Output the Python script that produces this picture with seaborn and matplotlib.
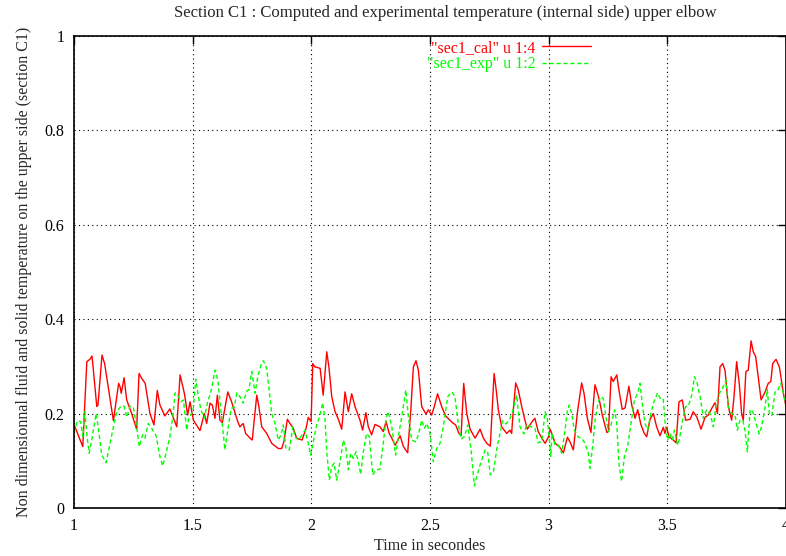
import matplotlib
matplotlib.use("Agg")
import matplotlib.pyplot as plt
import seaborn as sns
import pandas as pd

# Computed temperature, section C1 (column 4 of sec1_cal)
cal_time = [1.000, 1.004, 1.037, 1.054, 1.067, 1.076, 1.096, 1.101, 1.118, 1.129,
            1.166, 1.188, 1.194, 1.199, 1.211, 1.222, 1.243, 1.264, 1.274, 1.285,
            1.300, 1.320, 1.337, 1.351, 1.362, 1.383, 1.404, 1.433, 1.447, 1.465,
            1.479, 1.489, 1.503, 1.531, 1.549, 1.559, 1.573, 1.583, 1.594, 1.604,
            1.615, 1.625, 1.648, 1.664, 1.690, 1.699, 1.713, 1.723, 1.742, 1.751,
            1.770, 1.779, 1.791, 1.812, 1.833, 1.861, 1.875, 1.884, 1.899, 1.910,
            1.924, 1.938, 1.961, 1.978, 1.987, 1.999, 2.006, 2.015, 2.037, 2.050,
            2.065, 2.074, 2.086, 2.100, 2.114, 2.128, 2.142, 2.156, 2.170, 2.184,
            2.205, 2.216, 2.230, 2.240, 2.254, 2.268, 2.289, 2.303, 2.315, 2.328,
            2.336, 2.353, 2.374, 2.388, 2.406, 2.420, 2.430, 2.441, 2.451, 2.465,
            2.483, 2.493, 2.507, 2.518, 2.532, 2.549, 2.566, 2.594, 2.608, 2.622,
            2.631, 2.642, 2.655, 2.669, 2.690, 2.711, 2.725, 2.739, 2.754, 2.770,
            2.778, 2.788, 2.802, 2.823, 2.837, 2.844, 2.851, 2.861, 2.872, 2.886,
            2.900, 2.910, 2.921, 2.933, 2.942, 2.956, 2.971, 2.985, 2.999, 3.006,
            3.017, 3.027, 3.045, 3.062, 3.079, 3.090, 3.104, 3.121, 3.139, 3.149,
            3.163, 3.178, 3.195, 3.202, 3.213, 3.226, 3.245, 3.252, 3.263, 3.272,
            3.287, 3.296, 3.310, 3.322, 3.338, 3.350, 3.364, 3.375, 3.389, 3.403,
            3.413, 3.427, 3.441, 3.455, 3.469, 3.483, 3.490, 3.497, 3.507, 3.525,
            3.537, 3.549, 3.563, 3.577, 3.596, 3.609, 3.624, 3.642, 3.659, 3.673,
            3.687, 3.701, 3.711, 3.722, 3.733, 3.743, 3.757, 3.771, 3.781, 3.792,
            3.803, 3.813, 3.820, 3.831, 3.841, 3.853, 3.862, 3.872, 3.883, 3.895,
            3.912, 3.925, 3.936, 3.944, 3.958, 3.972, 3.989, 4.000]
cal_temp = [0.175, 0.172, 0.130, 0.310, 0.315, 0.322, 0.215, 0.218, 0.324, 0.306,
            0.185, 0.264, 0.257, 0.243, 0.276, 0.229, 0.200, 0.167, 0.285, 0.275,
            0.264, 0.200, 0.176, 0.249, 0.218, 0.195, 0.210, 0.172, 0.282, 0.243,
            0.197, 0.225, 0.186, 0.164, 0.200, 0.179, 0.222, 0.218, 0.190, 0.239,
            0.186, 0.181, 0.246, 0.225, 0.183, 0.172, 0.179, 0.158, 0.148, 0.144,
            0.239, 0.215, 0.172, 0.158, 0.137, 0.126, 0.126, 0.140, 0.188, 0.179,
            0.169, 0.148, 0.144, 0.169, 0.192, 0.183, 0.306, 0.299, 0.296, 0.239,
            0.331, 0.299, 0.236, 0.204, 0.188, 0.167, 0.246, 0.204, 0.242, 0.215,
            0.186, 0.165, 0.202, 0.172, 0.155, 0.177, 0.172, 0.162, 0.183, 0.158,
            0.151, 0.133, 0.153, 0.130, 0.117, 0.215, 0.299, 0.312, 0.292, 0.215,
            0.199, 0.208, 0.197, 0.215, 0.242, 0.215, 0.195, 0.181, 0.176, 0.158,
            0.153, 0.264, 0.200, 0.167, 0.148, 0.167, 0.148, 0.137, 0.131, 0.285,
            0.254, 0.208, 0.172, 0.158, 0.165, 0.158, 0.208, 0.265, 0.250, 0.216,
            0.186, 0.167, 0.176, 0.185, 0.190, 0.162, 0.148, 0.137, 0.151, 0.167,
            0.153, 0.137, 0.130, 0.117, 0.150, 0.140, 0.123, 0.202, 0.265, 0.243,
            0.190, 0.160, 0.261, 0.250, 0.230, 0.197, 0.160, 0.162, 0.278, 0.268,
            0.282, 0.250, 0.209, 0.212, 0.258, 0.218, 0.190, 0.208, 0.176, 0.158,
            0.151, 0.188, 0.200, 0.172, 0.153, 0.171, 0.158, 0.171, 0.151, 0.144,
            0.138, 0.225, 0.229, 0.186, 0.188, 0.204, 0.193, 0.167, 0.192, 0.197,
            0.211, 0.223, 0.200, 0.299, 0.306, 0.292, 0.215, 0.186, 0.236, 0.310,
            0.264, 0.200, 0.186, 0.289, 0.292, 0.354, 0.331, 0.321, 0.278, 0.229,
            0.246, 0.264, 0.268, 0.306, 0.315, 0.299, 0.243, 0.215]

# Experimental temperature, section C1 (column 2 of sec1_exp)
exp_time = [1.000, 1.004, 1.014, 1.028, 1.037, 1.046, 1.055, 1.064, 1.075, 1.093,
            1.102, 1.117, 1.135, 1.152, 1.166, 1.180, 1.197, 1.211, 1.222, 1.236,
            1.250, 1.264, 1.275, 1.289, 1.299, 1.313, 1.327, 1.346, 1.362, 1.374,
            1.391, 1.404, 1.416, 1.426, 1.440, 1.451, 1.461, 1.475, 1.485, 1.496,
            1.503, 1.513, 1.524, 1.535, 1.549, 1.563, 1.577, 1.594, 1.606, 1.615,
            1.629, 1.636, 1.648, 1.662, 1.675, 1.686, 1.699, 1.713, 1.728, 1.737,
            1.749, 1.763, 1.774, 1.788, 1.798, 1.812, 1.822, 1.833, 1.847, 1.861,
            1.872, 1.882, 1.893, 1.907, 1.922, 1.931, 1.945, 1.959, 1.973, 1.987,
            1.997, 2.008, 2.023, 2.034, 2.048, 2.058, 2.065, 2.076, 2.086, 2.096,
            2.107, 2.121, 2.135, 2.146, 2.156, 2.166, 2.177, 2.188, 2.198, 2.208,
            2.219, 2.233, 2.244, 2.259, 2.272, 2.289, 2.303, 2.315, 2.324, 2.339,
            2.355, 2.369, 2.383, 2.398, 2.409, 2.423, 2.440, 2.451, 2.465, 2.476,
            2.487, 2.500, 2.514, 2.528, 2.542, 2.556, 2.575, 2.592, 2.605, 2.619,
            2.631, 2.645, 2.659, 2.673, 2.687, 2.701, 2.715, 2.732, 2.743, 2.754,
            2.767, 2.784, 2.795, 2.806, 2.820, 2.834, 2.848, 2.865, 2.879, 2.896,
            2.907, 2.921, 2.942, 2.956, 2.971, 2.985, 2.994, 3.003, 3.009, 3.014,
            3.027, 3.041, 3.055, 3.069, 3.079, 3.087, 3.097, 3.108, 3.116, 3.125,
            3.139, 3.153, 3.167, 3.174, 3.186, 3.195, 3.209, 3.221, 3.230, 3.240,
            3.252, 3.263, 3.278, 3.287, 3.296, 3.307, 3.319, 3.333, 3.347, 3.361,
            3.375, 3.385, 3.395, 3.406, 3.417, 3.431, 3.441, 3.459, 3.473, 3.483,
            3.492, 3.501, 3.511, 3.521, 3.530, 3.544, 3.553, 3.563, 3.577, 3.588,
            3.603, 3.614, 3.624, 3.638, 3.652, 3.665, 3.680, 3.694, 3.705, 3.719,
            3.733, 3.747, 3.757, 3.771, 3.785, 3.795, 3.806, 3.818, 3.827, 3.837,
            3.849, 3.860, 3.874, 3.887, 3.897, 3.912, 3.921, 3.930, 3.940, 3.954,
            3.964, 3.978, 3.989, 4.000]
exp_temp = [0.160, 0.165, 0.185, 0.183, 0.151, 0.204, 0.151, 0.116, 0.144, 0.200,
            0.172, 0.112, 0.096, 0.137, 0.172, 0.204, 0.215, 0.216, 0.192, 0.216,
            0.213, 0.172, 0.130, 0.155, 0.148, 0.179, 0.169, 0.153, 0.109, 0.089,
            0.123, 0.151, 0.193, 0.244, 0.236, 0.225, 0.229, 0.165, 0.193, 0.200,
            0.213, 0.273, 0.236, 0.208, 0.190, 0.225, 0.246, 0.292, 0.271, 0.225,
            0.158, 0.123, 0.165, 0.211, 0.213, 0.244, 0.236, 0.222, 0.248, 0.251,
            0.289, 0.243, 0.278, 0.303, 0.312, 0.296, 0.250, 0.200, 0.179, 0.144,
            0.155, 0.176, 0.126, 0.123, 0.172, 0.151, 0.144, 0.153, 0.165, 0.137,
            0.112, 0.140, 0.178, 0.192, 0.223, 0.186, 0.119, 0.059, 0.088, 0.095,
            0.059, 0.098, 0.144, 0.126, 0.081, 0.116, 0.105, 0.119, 0.098, 0.071,
            0.119, 0.158, 0.151, 0.070, 0.081, 0.082, 0.137, 0.190, 0.204, 0.172,
            0.112, 0.158, 0.200, 0.250, 0.193, 0.144, 0.140, 0.155, 0.186, 0.169,
            0.179, 0.158, 0.098, 0.126, 0.137, 0.172, 0.236, 0.246, 0.236, 0.179,
            0.146, 0.151, 0.176, 0.123, 0.047, 0.074, 0.098, 0.123, 0.119, 0.070,
            0.077, 0.133, 0.158, 0.185, 0.178, 0.186, 0.204, 0.239, 0.172, 0.157,
            0.176, 0.173, 0.169, 0.138, 0.141, 0.204, 0.190, 0.144, 0.109, 0.158,
            0.133, 0.133, 0.116, 0.165, 0.208, 0.218, 0.200, 0.165, 0.158, 0.150,
            0.148, 0.137, 0.116, 0.084, 0.133, 0.185, 0.225, 0.236, 0.232, 0.197,
            0.162, 0.176, 0.208, 0.179, 0.095, 0.056, 0.109, 0.133, 0.179, 0.229,
            0.243, 0.264, 0.218, 0.179, 0.165, 0.200, 0.222, 0.244, 0.229, 0.230,
            0.172, 0.144, 0.158, 0.144, 0.165, 0.133, 0.151, 0.183, 0.215, 0.215,
            0.239, 0.278, 0.268, 0.236, 0.190, 0.208, 0.200, 0.172, 0.220, 0.243,
            0.254, 0.271, 0.215, 0.200, 0.198, 0.165, 0.186, 0.186, 0.165, 0.119,
            0.209, 0.204, 0.179, 0.157, 0.172, 0.215, 0.251, 0.200, 0.195, 0.246,
            0.248, 0.264, 0.243, 0.215]

x_ticks = [1, 1.5, 2, 2.5, 3, 3.5, 4]
x_tick_labels = ["1", "1.5", "2", "2.5", "3", "3.5", "4"]
y_ticks = [0, 0.2, 0.4, 0.6, 0.8, 1]
y_tick_labels = ["0", "0.2", "0.4", "0.6", "0.8", "1"]

cal_label = '"sec1_cal" u 1:4'
exp_label = '"sec1_exp" u 1:2'
title = "Section C1 : Computed and experimental temperature (internal side) upper elbow"
x_title = "Time in secondes"
y_title = "Non dimensionnal fluid and solid temperature on the upper side (section C1)"

sns.set_style("white")
plt.rcParams["font.family"] = ["Liberation Serif", "DejaVu Serif"]
plt.rcParams["font.size"] = 11.5

fig = plt.figure(figsize=(7.86, 5.56), dpi=100)
ax = fig.add_axes([74 / 786, 1 - 508 / 556, 1 - 74 / 786, (508 - 36) / 556])

cal_df = pd.DataFrame({"time": cal_time, "temp": cal_temp})
exp_df = pd.DataFrame({"time": exp_time, "temp": exp_temp})

sns.lineplot(data=cal_df, x="time", y="temp", ax=ax, color="#ff0000",
             linewidth=1.0, label=cal_label, estimator=None, sort=False)
sns.lineplot(data=exp_df, x="time", y="temp", ax=ax, color="#00ff00",
             linewidth=1.0, label=exp_label, estimator=None, sort=False,
             dashes=False)
ax.lines[1].set_dashes([3, 2])

ax.set_xlim(1, 4)
ax.set_ylim(0, 1)
ax.set_xticks(x_ticks)
ax.set_xticklabels(x_tick_labels)
ax.set_yticks(y_ticks)
ax.set_yticklabels(y_tick_labels)
ax.tick_params(direction="in", length=6, width=1, top=True, right=True,
               labelsize=11.5, pad=7, colors="black")
ax.grid(True, color="black", linestyle=(0, (1, 3)), linewidth=0.8)
for side in ax.spines.values():
    side.set_color("black")
    side.set_linewidth(1.2)

ax.set_xlabel(x_title, fontsize=11.5, labelpad=3)
ax.set_ylabel(y_title, fontsize=11.5, labelpad=9)
fig.text(445 / 786, 1 - 13 / 556, title, ha="center", va="center", fontsize=12)

leg = ax.legend(loc="upper right", bbox_to_anchor=((601 - 74) / 712, 1.012),
                bbox_transform=ax.transAxes, frameon=False, fontsize=11.5,
                handlelength=3.1, handletextpad=0.4, labelspacing=0.02,
                markerfirst=False, borderaxespad=0.2)
leg.get_texts()[0].set_color("#ff0000")
leg.get_texts()[1].set_color("#00ff00")

fig.savefig("out.png", dpi=100)
